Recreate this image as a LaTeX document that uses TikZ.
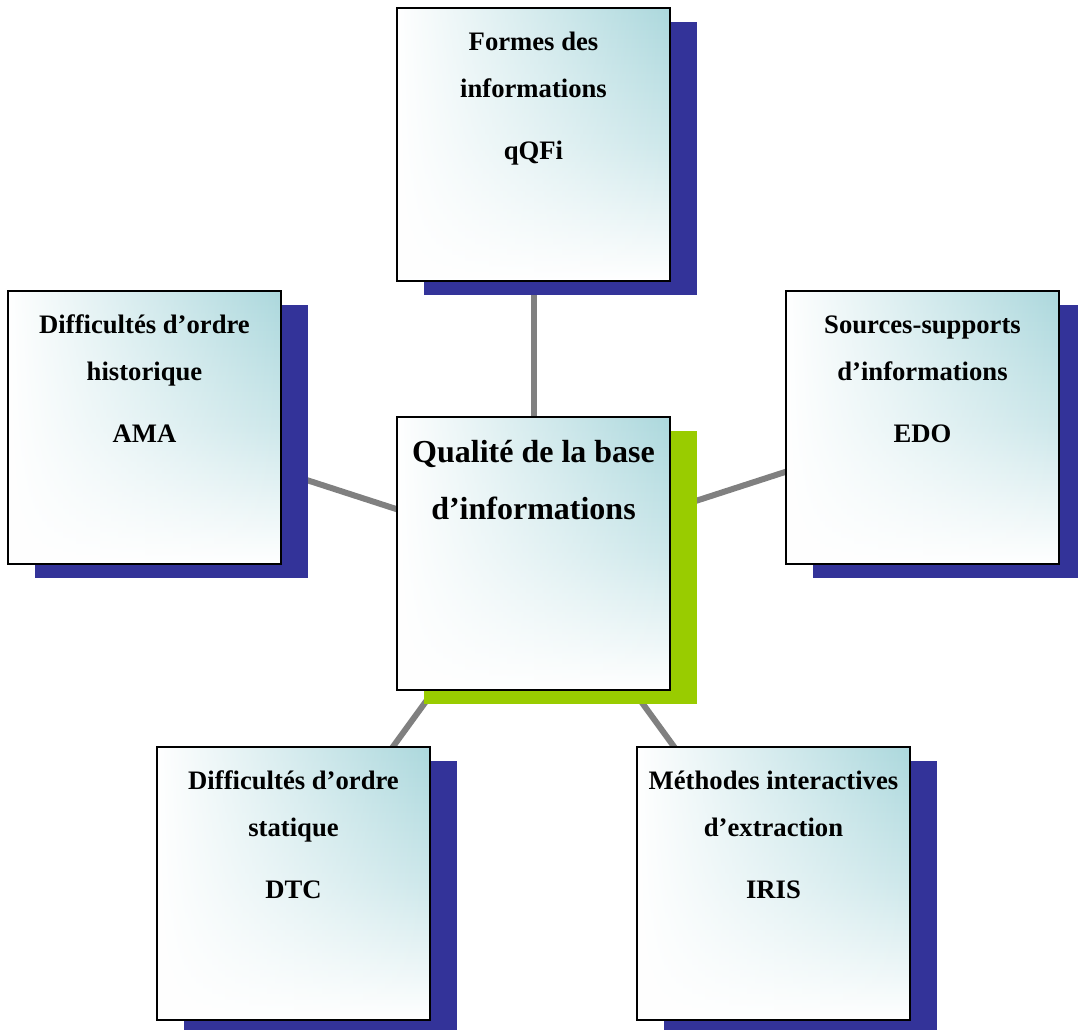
\documentclass[tikz,border=0pt]{standalone}
\usepackage{fontspec}
\setmainfont{Liberation Serif}
\usetikzlibrary{shadows,backgrounds,fadings}
\definecolor{ombre}{RGB}{51,51,153}
\definecolor{vert}{RGB}{153,204,0}
\definecolor{degrade}{RGB}{172,216,221}
\definecolor{trait}{RGB}{128,128,128}
\begin{document}
\begin{tikzpicture}[x=0.75pt,y=-0.75pt,
	boite/.style={draw=black,line width=1.2pt,minimum width=204.75pt,minimum height=204.75pt,inner sep=0pt,
		path picture={
			\fill[top color=degrade,bottom color=white,middle color=degrade!60!white] (path picture bounding box.north west) rectangle (path picture bounding box.south east);
			\fill[white,path fading=east] (path picture bounding box.north west) rectangle (path picture bounding box.south east);},
		drop shadow={shadow xshift=20.25pt,shadow yshift=-10.5pt,fill=ombre,opacity=1}},
	centre/.style={boite,drop shadow={shadow xshift=20.25pt,shadow yshift=-10.5pt,fill=vert,opacity=1}},
	txt/.style={anchor=base,text width=198pt,align=flush center,inner sep=0pt,font=\bfseries\fontsize{20}{35.25}\selectfont},
	titre/.style={txt,font=\bfseries\fontsize{24}{42.75}\selectfont},
	lien/.style={draw=trait,line width=4.5pt}]
	\useasboundingbox (0,0) rectangle (1078,1030);
	% les boites
	\node[boite] (F) at (533.5,144.5) {};
	\node[boite] (H) at (144.5,427.5) {};
	\node[boite] (S) at (922.5,427.5) {};
	\node[centre] (Q) at (533.5,553.5) {};
	\node[boite] (T) at (293.5,883.5) {};
	\node[boite] (M) at (773.5,883.5) {};
	% les textes
	\node[titre] (tQ) at ([yshift=-34.5pt]Q.north) {Qualité de la base\\d’informations};
	\node[txt] (tF) at ([yshift=-32.25pt]F.north) {Formes des\\informations\\[11.25pt]qQFi};
	\node[txt] (tH) at ([yshift=-32.25pt]H.north) {Difficultés d’ordre\\historique\\[11.25pt]AMA};
	\node[txt] (tS) at ([yshift=-32.25pt]S.north) {Sources-supports\\d’informations\\[11.25pt]EDO};
	\node[txt] (tT) at ([yshift=-32.25pt]T.north) {Difficultés d’ordre\\statique\\[11.25pt]DTC};
	\node[txt] (tM) at ([yshift=-32.25pt]M.north) {Méthodes interactives\\d’extraction\\[11.25pt]IRIS};
	% les liens
	\begin{pgfonlayer}{background}
		\foreach \b in {F,H,S,T,M} \draw[lien] (Q.center) -- (\b.center);
	\end{pgfonlayer}
\end{tikzpicture}
\end{document}
